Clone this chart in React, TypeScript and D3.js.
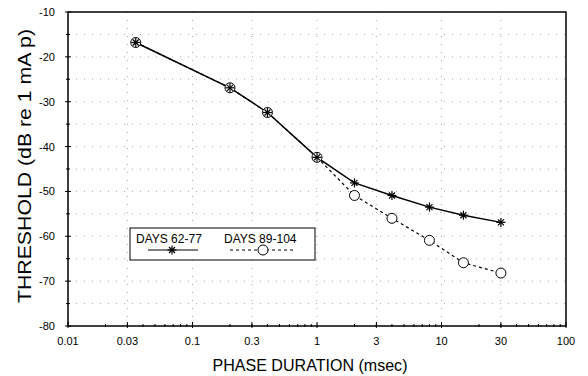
import React from "react";
import * as d3 from "d3";

const phaseDur = [0.035, 0.2, 0.4, 1, 2, 4, 8, 15, 30];
const days62_77 = [-16.8, -26.9, -32.4, -42.4, -48.1, -50.9, -53.5, -55.3, -56.9];
const days89_104 = [-16.8, -26.9, -32.4, -42.4, -50.9, -56.0, -60.9, -65.9, -68.2];
const xTicks = [0.01, 0.03, 0.1, 0.3, 1, 3, 10, 30, 100];
const xTickLabels = ["0.01", "0.03", "0.1", "0.3", "1", "3", "10", "30", "100"];
const yTicks = [-10, -20, -30, -40, -50, -60, -70, -80];
const seriesNames = ["DAYS 62-77", "DAYS 89-104"];

const W = 588, H = 376;
const L = 68, R = 566, T = 12, B = 326;
const font = "Liberation Sans, Arial, sans-serif";

export default function App() {
  const x = d3.scaleLog().domain([0.01, 100]).range([L, R]);
  const y = d3.scaleLinear().domain([-80, -10]).range([B, T]);

  const minorX: number[] = [];
  for (let e = -2; e < 2; e++) {
    for (let m = 2; m <= 9; m++) minorX.push(m * Math.pow(10, e));
  }
  const gridY = d3.range(-75, -10, 5);
  const gridX = [0.03, 0.1, 0.3, 1, 3, 10, 30];
  const minorY = d3.range(-75, -10, 10);

  const line = d3
    .line<number>()
    .x((_, i) => x(phaseDur[i]))
    .y((d) => y(d));

  const star = (cx: number, cy: number, k: string | number) => (
    <g key={k} stroke="#000" strokeWidth={1.2}>
      <line x1={cx - 4.5} x2={cx + 4.5} y1={cy} y2={cy} />
      <line x1={cx} x2={cx} y1={cy - 4.5} y2={cy + 4.5} />
      <line x1={cx - 3} x2={cx + 3} y1={cy - 3} y2={cy + 3} />
      <line x1={cx - 3} x2={cx + 3} y1={cy + 3} y2={cy - 3} />
    </g>
  );

  return (
    <svg width={W} height={H} style={{ position: "absolute", left: 0, top: 0, background: "#fff" }}>
      <rect width={W} height={H} fill="#fff" />
      {/* grid */}
      <g stroke="#aaa" strokeWidth={1} strokeDasharray="1,7">
        {gridY.map((v) => (
          <line key={"gy" + v} x1={L} x2={R} y1={y(v)} y2={y(v)} />
        ))}
        {gridX.map((v) => (
          <line key={"gx" + v} x1={x(v)} x2={x(v)} y1={T} y2={B} />
        ))}
      </g>
      {/* frame */}
      <rect x={L} y={T} width={R - L} height={B - T} fill="none" stroke="#000" strokeWidth={1.5} />
      {/* ticks */}
      <g stroke="#000" strokeWidth={1}>
        {yTicks.map((v) => (
          <line key={"yt" + v} x1={L - 3} x2={L + 3} y1={y(v)} y2={y(v)} />
        ))}
        {minorY.map((v) => (
          <line key={"ym" + v} x1={L - 2} x2={L + 2} y1={y(v)} y2={y(v)} />
        ))}
        {xTicks.map((v) => (
          <line key={"xt" + v} x1={x(v)} x2={x(v)} y1={B - 4} y2={B + 2} />
        ))}
        {minorX.map((v) => (
          <line key={"xm" + v} x1={x(v)} x2={x(v)} y1={B - 2} y2={B + 1} />
        ))}
      </g>
      {/* tick labels */}
      <g fontFamily={font} fontSize={11} fill="#000">
        {yTicks.map((v) => (
          <text key={"yl" + v} x={L - 13} y={y(v) + 4} textAnchor="end">
            {"-" + Math.abs(v)}
          </text>
        ))}
        {xTicks.map((v, i) => (
          <text key={"xl" + v} x={x(v)} y={B + 19} textAnchor="middle">
            {xTickLabels[i]}
          </text>
        ))}
      </g>
      {/* axis titles */}
      <text
        x={310}
        y={371}
        textAnchor="middle"
        fontFamily={font}
        fontSize={17}
        textLength={195}
        lengthAdjust="spacingAndGlyphs"
      >
        PHASE DURATION (msec)
      </text>
      <text
        transform={`translate(31, 166) rotate(-90)`}
        textAnchor="middle"
        fontFamily={font}
        fontSize={19}
        textLength={274}
        lengthAdjust="spacingAndGlyphs"
      >
        THRESHOLD (dB re 1 mA p)
      </text>
      {/* series */}
      <path d={line(days89_104) || ""} fill="none" stroke="#000" strokeWidth={1.2} strokeDasharray="3,3" />
      <path d={line(days62_77) || ""} fill="none" stroke="#000" strokeWidth={1.5} />
      {days89_104.map((v, i) => (
        <circle key={"c" + i} cx={x(phaseDur[i])} cy={y(v)} r={5} fill="#fff" stroke="#000" strokeWidth={1} />
      ))}
      {days62_77.map((v, i) => star(x(phaseDur[i]), y(v), "s" + i))}
      {/* legend */}
      <rect x={130} y={228} width={185} height={32} fill="#fff" stroke="#000" strokeWidth={1} />
      <g fontFamily={font} fontSize={12}>
        <text x={136} y={243}>{seriesNames[0]}</text>
        <text x={224} y={243}>{seriesNames[1]}</text>
      </g>
      <line x1={148} x2={198} y1={250} y2={250} stroke="#000" strokeWidth={1.2} />
      {star(172, 250, "ls")}
      <line x1={230} x2={296} y1={250} y2={250} stroke="#000" strokeWidth={1} strokeDasharray="3,3" />
      <circle cx={263} cy={250} r={5} fill="#fff" stroke="#000" strokeWidth={1} />
    </svg>
  );
}
